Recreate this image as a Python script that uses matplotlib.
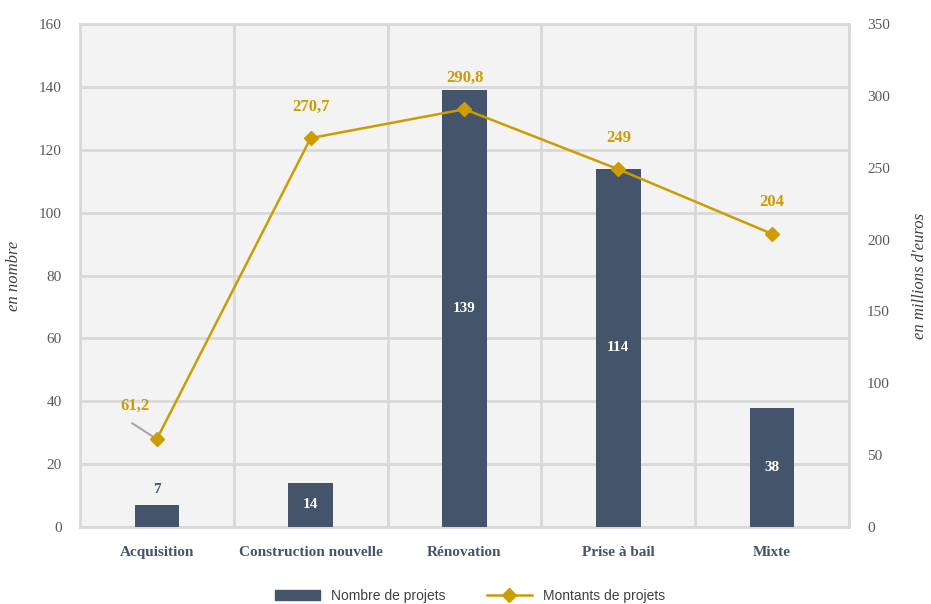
import matplotlib.pyplot as plt
import numpy as np
from matplotlib.patches import Patch
from matplotlib.lines import Line2D

# Données
categories = ['Acquisition', 'Construction nouvelle', 'Rénovation', 'Prise à bail', 'Mixte']
nb_projets = [7, 14, 139, 114, 38]
montants = [61.2, 270.7, 290.8, 249, 204]
montants_txt = ['61,2', '270,7', '290,8', '249', '204']

bar_color = '#44546a'
line_color = '#cc9c00'
grid_color = '#d9d9d9'
text_color = '#44546a'

plt.rcParams['font.family'] = ['Liberation Serif', 'DejaVu Serif']

fig = plt.figure(figsize=(9.31, 6.04), dpi=100)
ax = fig.add_axes([0.0859, 0.1275, 0.826, 0.8325])
ax.set_facecolor('#f3f3f3')

x = np.arange(len(categories))
bars = ax.bar(x, nb_projets, 0.29, color=bar_color, zorder=3)

ax.set_xlim(-0.5, len(categories) - 0.5)
ax.set_ylim(0, 160)
ax.set_yticks(np.arange(0, 161, 20))
ax.set_xticks(x)
ax.set_xticklabels(categories, fontweight='bold', fontsize=11, color=text_color)
ax.set_xticks(np.arange(-0.5, len(categories)), minor=True)
ax.tick_params(axis='x', which='both', length=0, pad=14)
ax.tick_params(axis='y', length=0, labelsize=11, labelcolor='#595959', pad=13)
ax.grid(axis='y', color=grid_color, lw=2, zorder=0)
ax.grid(axis='x', which='minor', color=grid_color, lw=2, zorder=0)
for s in ax.spines.values():
    s.set_color(grid_color)
    s.set_linewidth(2)
ax.set_ylabel('en nombre', style='italic', fontsize=12, color='#404040', labelpad=12)

# Étiquettes des barres
for b, v in zip(bars, nb_projets):
    cx = b.get_x() + b.get_width() / 2
    if v < 10:
        ax.text(cx, v + 3, str(v), ha='center', va='bottom',
                fontsize=11, fontweight='bold', color=text_color, zorder=5)
    else:
        ax.text(cx, v / 2, str(v), ha='center', va='center',
                fontsize=11, fontweight='bold', color='white', zorder=5)

# Axe secondaire
ax2 = ax.twinx()
ax2.plot(x, montants, color=line_color, lw=1.8, marker='D', markersize=7, zorder=4)
ax2.set_ylim(0, 350)
ax2.set_yticks(np.arange(0, 351, 50))
ax2.tick_params(axis='y', length=0, labelsize=11, labelcolor='#595959', pad=13)
for s in ax2.spines.values():
    s.set_visible(False)
ax2.set_ylabel("en millions d'euros", style='italic', fontsize=12, color='#404040',
               labelpad=16)

# Étiquettes de la courbe
for i, (v, t) in enumerate(zip(montants, montants_txt)):
    if i == 0:
        ax2.text(i - 0.14, v + 23, t, ha='center', va='center', fontsize=12,
                 fontweight='bold', color=line_color)
        ax2.plot([i - 0.16, i - 0.03], [v + 11, v + 2], color='#a6a6a6', lw=1.5, zorder=3)
    else:
        ax2.text(i, v + 22, t, ha='center', va='center', fontsize=12,
                 fontweight='bold', color=line_color)

# Légende
handles = [Patch(color=bar_color, label='Nombre de projets'),
           Line2D([0], [0], color=line_color, lw=1.8, marker='D', markersize=7,
                  label='Montants de projets')]
fig.legend(handles=handles, loc='center', bbox_to_anchor=(0.505, 0.013), ncol=2,
           frameon=False, prop={'family': 'Liberation Sans', 'size': 10},
           labelcolor='#404040', columnspacing=3, handlelength=3.2)

plt.savefig('out.png', dpi=100)
